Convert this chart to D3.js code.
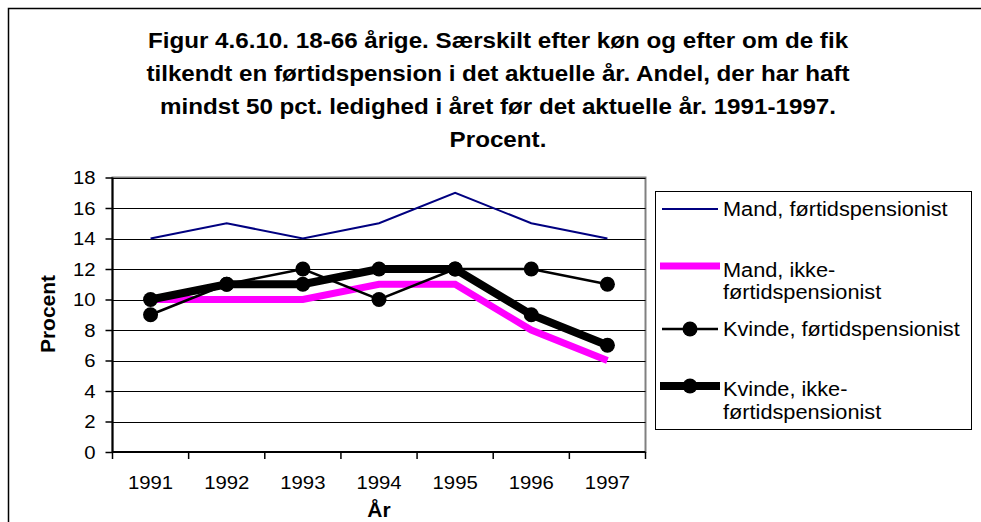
<!DOCTYPE html>
<html><head><meta charset="utf-8">
<script src="https://cdn.jsdelivr.net/npm/d3@7"></script>
<style>body{margin:0;background:#fff}svg{display:block;font-family:Arial,"Liberation Sans",sans-serif}</style>
</head><body>
<svg id="c" width="981" height="522"></svg>
<script>
const years = ["1991","1992","1993","1994","1995","1996","1997"];
const mandFortid = [14,15,14,15,17,15,14];
const mandIkke = [10,10,10,11,11,8,6];
const kvindeFortid = [9,11,12,10,12,12,11];
const kvindeIkke = [10,11,11,12,12,9,7];
const yTicks = [0,2,4,6,8,10,12,14,16,18];
const titleLines = ["Figur 4.6.10. 18-66 årige. Særskilt efter køn og efter om de fik",
 "tilkendt en førtidspension i det aktuelle år. Andel, der har haft",
 "mindst 50 pct. ledighed i året før det aktuelle år. 1991-1997.",
 "Procent."];

const series = [
 {name:["Mand, førtidspensionist"], values:mandFortid, color:"#000080", width:2, marker:false},
 {name:["Mand, ikke-","førtidspensionist"], values:mandIkke, color:"#ff00ff", width:7, marker:false},
 {name:["Kvinde, førtidspensionist"], values:kvindeFortid, color:"#000", width:2.5, marker:true},
 {name:["Kvinde, ikke-","førtidspensionist"], values:kvindeIkke, color:"#000", width:8, marker:true}
];

// horizontal stretch of a text element around its anchor x
function stretch(sel, sx){
  sel.each(function(){
    const el = d3.select(this);
    const x0 = +el.attr("x") || 0;
    const prev = el.attr("transform") || "";
    el.attr("transform", prev + ` translate(${x0*(1-sx)},0) scale(${sx},1)`);
  });
}

const svg = d3.select("#c");
svg.append("rect").attr("x",8.5).attr("y",8.5).attr("width",1000).attr("height",600)
  .attr("fill","none").attr("stroke","#000").attr("stroke-width",1.5);

// title
titleLines.forEach((l,i)=>{
  svg.append("text").attr("text-anchor","middle").attr("font-weight","bold").attr("font-size",22)
    .attr("x",498).attr("y",48.5+i*32.7).text(l).call(stretch,1.1);
});

const L=112.5, R=645.5, T=177.5, B=452;
const x = d3.scaleBand().domain(years).range([L,R]);
const y = d3.scaleLinear().domain([0,18]).range([B,T]);

svg.append("rect").attr("x",L).attr("y",T).attr("width",R-L).attr("height",B-T)
  .attr("fill","#fff").attr("stroke","#808080").attr("stroke-width",2);

svg.append("g").selectAll("line").data(yTicks.filter(d=>d>0)).join("line")
  .attr("x1",L).attr("x2",R).attr("y1",d=>Math.round(y(d))+0.5).attr("y2",d=>Math.round(y(d))+0.5)
  .attr("stroke","#000").attr("stroke-width",1);

const ya = svg.append("g").attr("transform",`translate(${L},0)`)
  .call(d3.axisLeft(y).tickValues(yTicks).tickSize(7).tickPadding(10));
const xa = svg.append("g").attr("transform",`translate(0,${B})`)
  .call(d3.axisBottom(x).tickSize(0).tickPadding(24));
svg.append("g").selectAll("line").data(d3.range(years.length+1)).join("line")
  .attr("x1",i=>L+i*x.step()).attr("x2",i=>L+i*x.step()).attr("y1",B).attr("y2",B+7)
  .attr("stroke","#000").attr("stroke-width",1.5);
[ya,xa].forEach(a=>{
  a.selectAll("text").attr("font-size",19).attr("fill","#000").attr("font-family","Arial,'Liberation Sans',sans-serif");
  a.selectAll("line").attr("stroke","#000").attr("stroke-width",1.5);
  a.select(".domain").attr("stroke","#000").attr("stroke-width",2);
});
xa.selectAll("text").call(stretch,1.07);
ya.selectAll("text").call(stretch,1.07);
xa.select(".domain").attr("d",`M${L},0H${R}`);
ya.select(".domain").attr("d",`M0,${T}V${B}`);

svg.append("text").attr("transform","translate(55,314) rotate(-90)").attr("text-anchor","middle")
  .attr("font-weight","bold").attr("font-size",21).text("Procent");
svg.append("text").attr("x",379).attr("y",517).attr("text-anchor","middle")
  .attr("font-weight","bold").attr("font-size",21).text("År");

const line = d3.line().x((d,i)=>x(years[i])+x.bandwidth()/2).y(d=>y(d));
series.forEach(s=>{
  svg.append("path").attr("d",line(s.values)).attr("fill","none")
    .attr("stroke",s.color).attr("stroke-width",s.width).attr("stroke-linejoin","miter");
  if(s.marker){
    svg.append("g").selectAll("circle").data(s.values).join("circle")
      .attr("cx",(d,i)=>x(years[i])+x.bandwidth()/2).attr("cy",d=>y(d)).attr("r",7.5).attr("fill","#000");
  }
});

// legend
svg.append("rect").attr("x",655.5).attr("y",191.5).attr("width",316).attr("height",238)
  .attr("fill","#fff").attr("stroke","#000").attr("stroke-width",1);
const legLineY = [209, 266, 329, 386];
const legTextY = [[216],[277,299],[336],[396,419]];
series.forEach((s,i)=>{
  const yy = legLineY[i];
  svg.append("line").attr("x1",i%2?660:662).attr("x2",i%2?720:718).attr("y1",yy).attr("y2",yy)
    .attr("stroke",s.color).attr("stroke-width",s.width);
  if(s.marker) svg.append("circle").attr("cx",690).attr("cy",yy).attr("r",7.5).attr("fill","#000");
  s.name.forEach((n,j)=>{
    svg.append("text").attr("font-size",19.5).attr("fill","#000")
      .attr("x",723).attr("y",legTextY[i][j]).text(n).call(stretch,1.115);
  });
});
</script>
</body></html>
